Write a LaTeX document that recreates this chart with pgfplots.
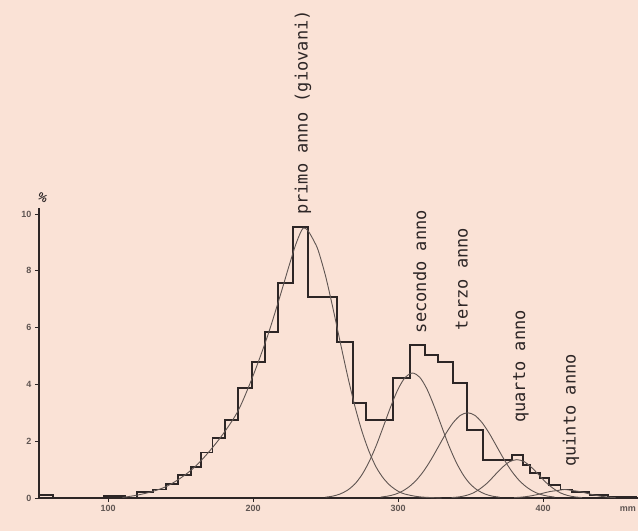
\documentclass[border=0pt]{standalone}
\usepackage{pgfplots}
\pgfplotsset{compat=1.18}
\usepackage{fontspec}
\setmainfont{Liberation Sans}
\newfontfamily\monof{DejaVu Sans Mono}
\definecolor{bg}{RGB}{250,226,214}
\definecolor{ink}{RGB}{45,38,38}
\definecolor{ink2}{RGB}{95,85,82}
\begin{document}
\begin{tikzpicture}[x=1pt,y=1pt]
\useasboundingbox (0,0) rectangle (638,531);
\fill[bg] (0,0) rectangle (638,531);
\begin{axis}[
  at={(39pt,33pt)}, anchor=south west,
  scale only axis, width=599pt, height=289.7pt,
  xmin=52.4, xmax=465.5, ymin=0, ymax=10.2,
  axis x line*=bottom, axis y line*=left,
  axis line style={draw=ink, line width=1.6pt, -},
  xtick={100,200,300,400}, ytick={0,2,4,6,8,10},
  tick align=outside, major tick length=4pt,
  tick style={draw=ink, line width=0.8pt},
  tick label style={font=\fontsize{9}{10}\selectfont\bfseries, text=ink2},
  /pgf/number format/assume math mode=true,
  clip=false,
]
% histogram
\addplot[const plot, draw=ink, line width=1.8pt] coordinates {
(53,0.1) (62,0) (97,0.06) (112,0) (120,0.2) (131,0.3) (140,0.5) (148,0.8)
(157,1.1) (164,1.6) (172,2.1) (180.5,2.75) (189.7,3.87) (199.3,4.79)
(208.3,5.85) (217.2,7.57) (227.6,9.54) (237.9,7.08) (257.9,5.49) (269,3.35)
(277.9,2.75) (296.6,4.23) (308.3,5.39) (318.6,5.04) (327.6,4.79) (337.9,4.05)
(347.6,2.39) (358.6,1.34) (378.6,1.51) (386.2,1.16) (391,0.88) (398,0.7)
(404,0.45) (412,0.3) (420,0.2) (432,0.1) (445,0.03) (465,0.03)};
% primo anno
\addplot[smooth, draw=ink2, line width=0.9pt] coordinates {
(110,0.02)(120,0.1)(130,0.22)(140,0.4)(150,0.7)(160,1.1)(170,1.65)(180,2.3)
(190,3.1)(200,4.3)(210,5.7)(218,7.0)(225,8.2)(230,9.0)(234.5,9.5)(238,9.4)
(242,9.05)(245,8.71)(250,7.82)(255,6.71)(260,5.52)(265,4.35)(270,3.28)
(275,2.37)(280,1.64)(285,1.08)(290,0.69)(295,0.42)(300,0.24)(305,0.135)
(315,0.04)(330,0)};
% secondo anno
\addplot[smooth, draw=ink2, line width=0.9pt] coordinates {
(250,0.03)(255,0.066)(260,0.14)(265,0.27)(270,0.48)(275,0.81)(280,1.27)
(285,1.85)(290,2.53)(295,3.22)(300,3.83)(305,4.25)(310,4.4)(315,4.25)
(320,3.83)(325,3.22)(330,2.53)(335,1.85)(340,1.27)(345,0.81)(350,0.48)
(355,0.27)(360,0.14)(365,0.066)(370,0.03)};
% terzo anno
\addplot[smooth, draw=ink2, line width=0.9pt] coordinates {
(288,0.033)(293,0.068)(298,0.13)(303,0.24)(308,0.41)(313,0.65)(318,0.97)
(323,1.37)(328,1.82)(333,2.27)(338,2.65)(343,2.91)(348,3.0)(353,2.91)
(358,2.65)(363,2.27)(368,1.82)(373,1.37)(378,0.97)(383,0.65)(388,0.41)
(393,0.24)(398,0.13)(403,0.068)(408,0.033)};
% quarto anno
\addplot[smooth, draw=ink2, line width=0.9pt] coordinates {
(337,0.015)(342,0.039)(347,0.089)(352,0.18)(357,0.34)(362,0.55)(367,0.82)
(372,1.08)(377,1.28)(382,1.35)(387,1.28)(392,1.08)(397,0.82)(402,0.55)
(407,0.34)(412,0.18)(417,0.089)(422,0.039)(427,0.015)};
% quinto anno
\addplot[smooth, draw=ink2, line width=0.9pt] coordinates {
(380,0.013)(385,0.03)(390,0.061)(395,0.108)(400,0.17)(405,0.23)(410,0.264)
(415,0.3)(420,0.264)(425,0.23)(430,0.17)(435,0.108)(440,0.061)(445,0.03)
(450,0.013)};
% labels
\node[rotate=90, anchor=west, inner sep=0pt, font=\monof\fontsize{17}{17}\selectfont, text=ink] at (axis cs:234.5,9.96) {primo anno (giovani)};
\node[rotate=90, anchor=west, inner sep=0pt, font=\monof\fontsize{17}{17}\selectfont, text=ink] at (axis cs:315,5.8) {secondo anno};
\node[rotate=90, anchor=west, inner sep=0pt, font=\monof\fontsize{17}{17}\selectfont, text=ink] at (axis cs:344,5.9) {terzo anno};
\node[rotate=90, anchor=west, inner sep=0pt, font=\monof\fontsize{17}{17}\selectfont, text=ink] at (axis cs:384.8,2.64) {quarto anno};
\node[rotate=90, anchor=west, inner sep=0pt, font=\monof\fontsize{17}{17}\selectfont, text=ink] at (axis cs:419.3,1.09) {quinto anno};
\node[anchor=north, font=\fontsize{9}{10}\selectfont\bfseries, text=ink2, yshift=-5pt] at (axis cs:458.6,0) {mm};
\node[anchor=south, font=\fontsize{11}{11}\selectfont\bfseries, text=ink, rotate=-30] at (axis cs:52.4,10.35) {\%};
\end{axis}
\end{tikzpicture}
\end{document}
